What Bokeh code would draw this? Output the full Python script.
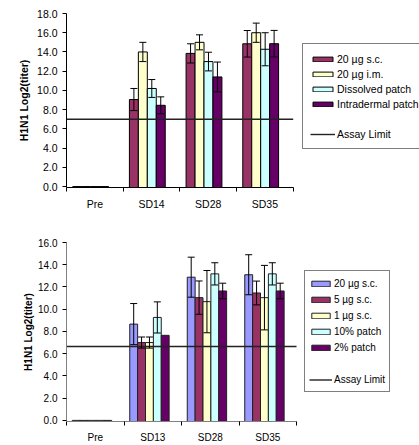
from bokeh.plotting import figure
from bokeh.models import (ColumnDataSource, Whisker, TeeHead, FixedTicker, Legend,
                          LegendItem, PrintfTickFormatter, Range1d)
from bokeh.layouts import column
from bokeh.embed import file_html
from bokeh.resources import INLINE

# ---------------- data: top chart ----------------
TOP_CATEGORIES = ["Pre", "SD14", "SD28", "SD35"]
TOP_SERIES = ["20 µg s.c.", "20 µg i.m.", "Dissolved patch", "Intradermal patch"]
top_sc = [0.0, 9.05, 13.85, 14.85]
top_sc_err = [0.0, 1.15, 1.0, 1.38]
top_im = [0.0, 14.0, 15.0, 16.0]
top_im_err = [0.0, 1.0, 0.78, 1.0]
top_dis = [0.0, 10.2, 13.0, 14.28]
top_dis_err = [0.0, 0.93, 0.97, 1.72]
top_id = [0.0, 8.45, 11.4, 14.86]
top_id_err = [0.0, 0.88, 1.55, 1.38]
TOP_ASSAY_LIMIT = 7.0
TOP_Y_TICKS = [0, 2, 4, 6, 8, 10, 12, 14, 16, 18]
TOP_COLORS = ["#993366", "#FFFFCC", "#CCFFFF", "#660066"]

# ---------------- data: bottom chart ----------------
BOT_CATEGORIES = ["Pre", "SD13", "SD28", "SD35"]
BOT_SERIES = ["20 µg s.c.", "5 µg s.c.", "1 µg s.c.", "10% patch", "2% patch"]
bot_20 = [0.0, 8.66, 12.88, 13.1]
bot_20_err = [0.0, 1.85, 1.8, 1.8]
bot_5 = [0.0, 7.0, 11.04, 11.46]
bot_5_err = [0.0, 0.5, 1.5, 1.07]
bot_1 = [0.0, 7.0, 10.68, 11.04]
bot_1_err = [0.0, 0.5, 2.8, 2.9]
bot_10 = [0.0, 9.26, 13.18, 13.18]
bot_10_err = [0.0, 1.4, 1.0, 1.0]
bot_2 = [0.0, 7.65, 11.64, 11.64]
bot_2_err = [0.0, 0.0, 0.7, 0.7]
BOT_ASSAY_LIMIT = 6.64
BOT_Y_TICKS = [0, 2, 4, 6, 8, 10, 12, 14, 16]
BOT_COLORS = ["#9999FF", "#993366", "#FFFFCC", "#CCFFFF", "#660066"]

FONT = "Liberation Sans"
Y_PAD = 0.1  # small pad below zero so zero-height bars stay visible


def make_chart(categories, series, values, errors, colors, assay, yticks,
               width, height, bl, bt, bb, plot_w, group_start, bar_w,
               font_size, x_standoff, title_standoff, axis_color, bar_line,
               legend_loc, legend_row, legend_pad, glyph_w, glyph_h):
    n = len(categories)
    y0 = yticks[0] - Y_PAD
    # the frame runs to the right edge so the legend can sit right of the bars
    x_end = n * (width - bl) / plot_w
    p = figure(width=width, height=height, output_backend="svg", toolbar_location=None,
               x_range=Range1d(0, x_end), y_range=Range1d(y0, yticks[-1]),
               min_border_left=bl, min_border_right=0, min_border_top=bt,
               min_border_bottom=bb)
    p.outline_line_color = None
    p.xgrid.visible = False
    p.ygrid.visible = False
    p.background_fill_color = "white"
    p.border_fill_color = "white"

    items = []
    wx, wu, wl = [], [], []
    for j, (name, vals, errs, col) in enumerate(zip(series, values, errors, colors)):
        xs = [i + group_start + (j + 0.5) * bar_w for i in range(n)]
        src = ColumnDataSource(dict(x=xs, top=vals))
        r = p.vbar(x="x", top="top", bottom=y0, width=bar_w, source=src,
                   fill_color=col, line_color=bar_line, line_width=1)
        items.append(LegendItem(label=name, renderers=[r]))
        for x, v, e in zip(xs, vals, errs):
            if e > 0:
                wx.append(x)
                wu.append(v + e)
                wl.append(v - e)

    wsrc = ColumnDataSource(dict(x=wx, upper=wu, lower=wl))
    p.add_layout(Whisker(base="x", upper="upper", lower="lower", source=wsrc,
                         line_color="black", line_width=1, level="overlay",
                         upper_head=TeeHead(size=7, line_color="black", line_width=1),
                         lower_head=TeeHead(size=7, line_color="black", line_width=1)))

    lr = p.line(x=[0, n], y=[assay, assay], line_color="#222222", line_width=1.4)
    dummy = p.line(x=[], y=[], line_alpha=0)
    items.append(LegendItem(label=" ", renderers=[dummy]))
    items.append(LegendItem(label="Assay Limit", renderers=[lr]))

    # axes
    xa = p.xaxis[0]
    xa.bounds = (0, n)
    xa.ticker = FixedTicker(ticks=[i + 0.5 for i in range(n)],
                            minor_ticks=list(range(n + 1)))
    xa.major_label_overrides = {i + 0.5: c for i, c in enumerate(categories)}
    xa.major_tick_out = 0
    xa.major_tick_in = 0
    xa.minor_tick_out = 4
    xa.minor_tick_in = 0
    xa.major_label_standoff = x_standoff
    xa.major_label_text_font = FONT
    xa.major_label_text_font_size = font_size
    xa.major_label_text_color = "black"
    xa.axis_line_color = axis_color
    xa.minor_tick_line_color = "black"

    ya = p.yaxis[0]
    ya.ticker = FixedTicker(ticks=yticks, minor_ticks=[])
    ya.formatter = PrintfTickFormatter(format="%.1f")
    ya.major_tick_out = 4
    ya.major_tick_in = 0
    ya.major_label_standoff = 5
    ya.major_label_text_font = FONT
    ya.major_label_text_font_size = font_size
    ya.major_label_text_color = "black"
    ya.axis_line_color = axis_color
    ya.major_tick_line_color = "black"
    ya.axis_label = "H1N1 Log2(titer)"
    ya.axis_label_text_font = FONT
    ya.axis_label_text_font_style = "bold"
    ya.axis_label_text_font_size = font_size
    ya.axis_label_text_color = "black"
    ya.axis_label_standoff = title_standoff

    legend = Legend(items=items, location=legend_loc, margin=0, padding=legend_pad,
                    spacing=0, label_height=legend_row, glyph_width=glyph_w,
                    glyph_height=glyph_h, label_standoff=2,
                    label_text_font=FONT, label_text_font_size=font_size,
                    label_text_color="black", border_line_color="black",
                    border_line_width=1, background_fill_color="white",
                    background_fill_alpha=1)
    p.add_layout(legend)
    return p


p1 = make_chart(TOP_CATEGORIES, TOP_SERIES,
                [top_sc, top_im, top_dis, top_id],
                [top_sc_err, top_im_err, top_dis_err, top_id_err],
                TOP_COLORS, TOP_ASSAY_LIMIT, TOP_Y_TICKS,
                width=419, height=214, bl=64, bt=13, bb=27, plot_w=228,
                group_start=0.11, bar_w=0.158, font_size="10.5px",
                x_standoff=6, title_standoff=4, axis_color="black",
                bar_line="black", legend_loc=(236, 38), legend_row=15,
                legend_pad=7, glyph_w=25, glyph_h=6)

p2 = make_chart(BOT_CATEGORIES, BOT_SERIES,
                [bot_20, bot_5, bot_1, bot_10, bot_2],
                [bot_20_err, bot_5_err, bot_1_err, bot_10_err, bot_2_err],
                BOT_COLORS, BOT_ASSAY_LIMIT, BOT_Y_TICKS,
                width=419, height=231, bl=66, bt=28, bb=24, plot_w=230,
                group_start=0.10, bar_w=0.137, font_size="10px",
                x_standoff=6, title_standoff=1, axis_color="#808080",
                bar_line="#202020", legend_loc=(238, 29), legend_row=16,
                legend_pad=4, glyph_w=23, glyph_h=7)

layout = column(p1, p2, spacing=0)
open("out.html", "w").write(file_html(layout, INLINE))
